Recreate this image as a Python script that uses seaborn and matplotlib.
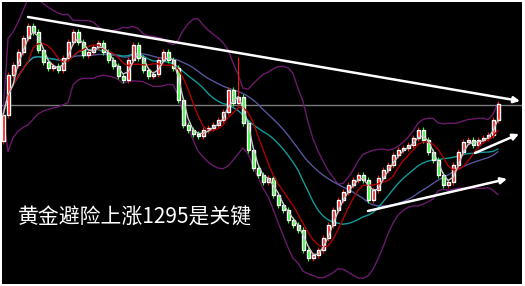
import numpy as np
import pandas as pd
import matplotlib
matplotlib.use("Agg")
import matplotlib.pyplot as plt
import seaborn as sns

# ---- data ----
closes = [1292.5, 1302.5, 1305, 1308.25, 1311.75, 1314.75, 1313.25, 1308.75, 1305.75, 1304.25,
          1304.75, 1303.75, 1306.75, 1310.75, 1313.25, 1310.75, 1307.5, 1308.25, 1309.5, 1310.5,
          1308.25, 1306.25, 1304.75, 1302.25, 1301.25, 1306.25, 1310, 1306.75, 1303.75, 1302.25,
          1302.75, 1306.25, 1308.25, 1306.25, 1304.25, 1296.25, 1290, 1288.75, 1287.75, 1287.25,
          1288.75, 1289.25, 1290, 1291.25, 1293.25, 1298.75, 1295.5, 1297, 1290.5, 1283.75,
          1279.25, 1277.5, 1275.75, 1276.75, 1272.5, 1270, 1268.75, 1266.25, 1265, 1263.75,
          1258.75, 1256.75, 1257.5, 1258.75, 1261.75, 1265, 1268.75, 1271.25, 1273.25, 1275,
          1276.25, 1277.5, 1276.25, 1271.25, 1273.75, 1276.75, 1278.75, 1280, 1282.5, 1283.75,
          1284.25, 1285, 1286.75, 1288.75, 1286.25, 1283.25, 1281.25, 1277.5, 1275, 1275.75,
          1280, 1283.25, 1285.75, 1286.25, 1285, 1286.25, 1286.75, 1287.5, 1291.25, 1295.25]
first_open = 1286.0
spike_highs = {47: 1307.0}
key_level = 1295
trend_lines = [((5, 1317.0), (103.4, 1296.0)),
               ((94.4, 1283.0), (103.2, 1287.75)),
               ((73, 1268.5), (100.8, 1276.5))]
caption = "黄金避险上涨1295是关键"

# ---- derived frame ----
n = len(closes)
df = pd.DataFrame({"idx": np.arange(n), "close": closes})
df["open"] = [first_open] + closes[:-1]
df["high"] = df[["open", "close"]].max(axis=1) + 0.7
df["low"] = df[["open", "close"]].min(axis=1) - 0.7
for k, v in spike_highs.items():
    df.loc[k, "high"] = v
s = df["close"]
df["ma_fast"] = s.rolling(3, min_periods=1).mean()
df["ma_mid"] = s.rolling(6, min_periods=1).mean()
df["ma_slow"] = s.rolling(15, min_periods=1).mean()
df["ma_long"] = s.rolling(26, min_periods=1).mean()
mid = s.rolling(14, min_periods=1).mean()
sd = s.rolling(14, min_periods=2).std().fillna(0)
df["bb_up"] = mid + 2 * sd
df["bb_dn"] = mid - 2 * sd

sns.set_theme(style="dark")
plt.rcParams["font.family"] = ["Noto Sans CJK SC", "DejaVu Sans"]

fig = plt.figure(figsize=(5.25, 2.86), dpi=100, facecolor="white")
ax = fig.add_axes([2 / 525, 2 / 286, 520 / 525, 282 / 286])
ax.set_facecolor("black")

# horizontal key level
ax.axhline(key_level, color="#7a7a7a", lw=1.0, zorder=1)

# bollinger bands
for col in ["bb_up", "bb_dn"]:
    sns.lineplot(data=df, x="idx", y=col, ax=ax, color="#6a1a6a", lw=1.0, zorder=2)
# moving averages
sns.lineplot(data=df, x="idx", y="ma_long", ax=ax, color="#55559c", lw=1.0, zorder=2)
sns.lineplot(data=df, x="idx", y="ma_slow", ax=ax, color="#119a9a", lw=1.0, zorder=2)

# candles
up = df["close"] >= df["open"]
colors = np.where(up, "#ff1010", "#22ff22")
ax.vlines(df["idx"], df["low"], df["high"], colors=colors, lw=0.8, zorder=3)
ax.bar(df["idx"], (df["close"] - df["open"]).abs().clip(lower=0.3),
       bottom=df[["open", "close"]].min(axis=1), width=0.6, color=colors, zorder=3)

sns.lineplot(data=df, x="idx", y="ma_mid", ax=ax, color="#b00000", lw=1.0, zorder=4)
sns.lineplot(data=df, x="idx", y="ma_fast", ax=ax, color="#c8c8c8", lw=1.0, zorder=4)

# trend lines
for (x0, y0), (x1, y1) in trend_lines:
    ax.annotate("", xy=(x1, y1), xytext=(x0, y0),
                arrowprops=dict(arrowstyle="-|>", color="white", lw=1.8,
                                mutation_scale=9, shrinkA=0, shrinkB=0), zorder=5)

ax.text(0.031, 0.234, caption, transform=ax.transAxes, color="white",
        fontsize=15, va="center", ha="left", zorder=6)

ax.set_xlim((2 - 3) / 5, (522 - 3) / 5)
ax.set_ylim(1295 + (105 - 284) / 4, 1295 + (105 - 2) / 4)
ax.set_xlabel("")
ax.set_ylabel("")
ax.set_xticks([])
ax.set_yticks([])
for sp in ax.spines.values():
    sp.set_visible(False)

fig.savefig("out.png", dpi=100, facecolor="white")
